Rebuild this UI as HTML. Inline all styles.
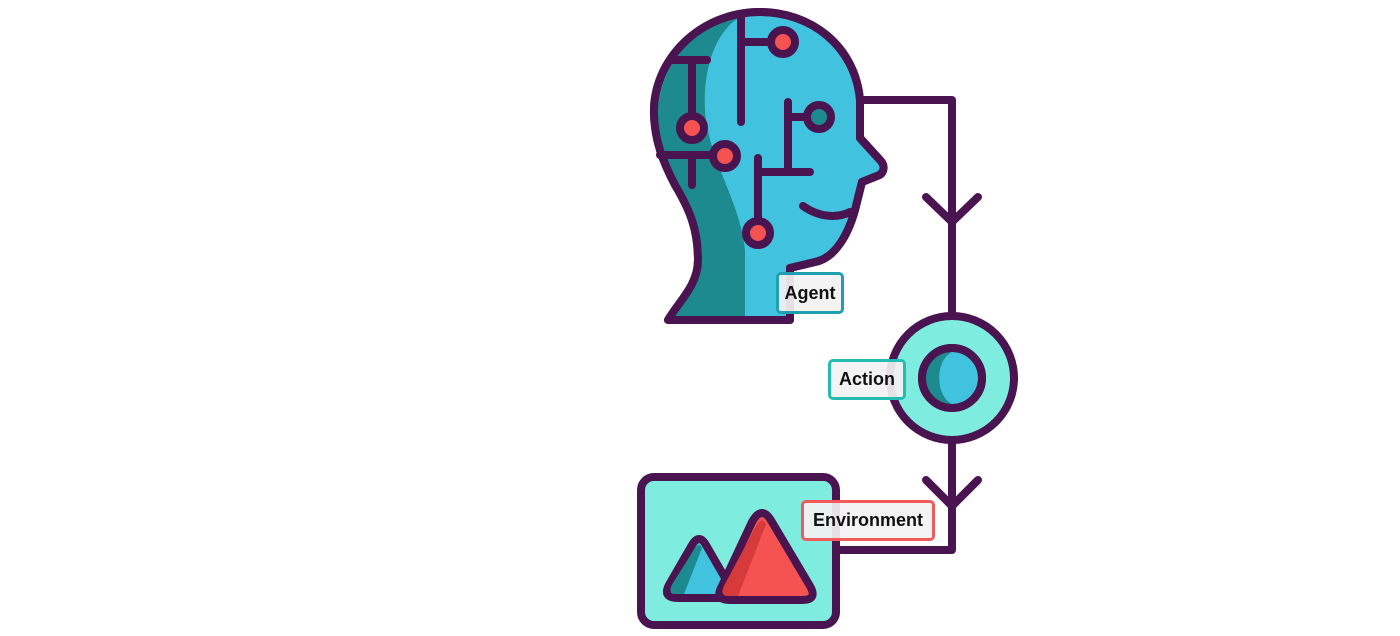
<!DOCTYPE html>
<html><head><style>
html,body{margin:0;padding:0;background:#fff;width:1400px;height:636px;overflow:hidden}
.l{position:absolute;box-sizing:border-box;border:3px solid;border-radius:5px;background:rgba(242,242,242,0.92);font:bold 18px "Liberation Sans",sans-serif;color:#111;display:flex;align-items:center;justify-content:center}
</style></head><body>
<svg width="1400" height="636" style="position:absolute;left:0;top:0">
<g stroke="#4a1450" stroke-width="8" stroke-linecap="round" stroke-linejoin="round">
<path d="M760,12 C700,12 652,60 654,115 C655,140 662,160 675,185 C690,210 698,230 698,260 C698,285 680,300 668,320 L790,320 L790,268 L815,262 C835,258 848,235 855,210 L862,182 L877,176 C884,174 886,166 880,160 L860,138 L860,100 C855,45 810,12 760,12 Z" fill="#41c3e0"/>
</g>
<path d="M742,16 C715,30 703,70 705,110 C708,160 740,200 745,250 L745,316 L672,316 C684,298 694,286 694,260 C694,230 686,210 671,185 C660,162 658,140 658,115 C658,62 700,20 742,16 Z" fill="#1c8a8e"/>
<g stroke="#4a1450" stroke-width="8" stroke-linecap="round" stroke-linejoin="round" fill="none">
<path d="M760,12 C700,12 652,60 654,115 C655,140 662,160 675,185 C690,210 698,230 698,260 C698,285 680,300 668,320 L790,320 L790,268 L815,262 C835,258 848,235 855,210 L862,182 L877,176 C884,174 886,166 880,160 L860,138 L860,100 C855,45 810,12 760,12 Z"/>
<path d="M741,14 V122 M741,42 H771 M672,60 H707 M692,60 V116 M660,155 H713 M692,155 V185 M758,158 V221 M758,172 H810 M788,102 V172 M788,117 H807"/>
<path d="M803,206 C820,218 838,218 850,212"/>
<path d="M862,100 H952 V316 M926,197 L952,222 L978,197 M952,440 V550 H838 M926,480 L952,506 L978,480"/>
</g>
<g stroke="#4a1450" stroke-width="8">
<circle cx="783" cy="42" r="12" fill="#f55252"/>
<circle cx="692" cy="128" r="12" fill="#f55252"/>
<circle cx="725" cy="156" r="12" fill="#f55252"/>
<circle cx="758" cy="233" r="12" fill="#f55252"/>
<circle cx="819" cy="117" r="12" fill="#1c8a8e"/>
<circle cx="952" cy="378" r="62" fill="#7eede0"/>
<circle cx="952" cy="378" r="30" fill="#41c3e0"/>
</g>
<path d="M952,352 C935,360 935,396 952,404 A26,26 0 0 1 952,352 Z" fill="#1c8a8e"/>
<circle cx="952" cy="378" r="30" fill="none" stroke="#4a1450" stroke-width="8"/>
<rect x="641" y="477" width="195" height="148" rx="13" fill="#7eede0" stroke="#4a1450" stroke-width="8"/>
<path d="M692,545 Q699,533 706,545 L728,583 Q737,598 720,598 L678,598 Q661,598 670,583 Z" fill="#41c3e0" stroke="#4a1450" stroke-width="8" stroke-linejoin="round"/>
<path d="M695,548 Q699,542 702,548 L684,594 L678,594 Q666,594 673,583 Z" fill="#1c8a8e"/>
<path d="M752,522 Q762,504 772,522 L810,586 Q818,600 802,600 L730,600 Q714,600 722,586 Z" fill="#f55252" stroke="#4a1450" stroke-width="8" stroke-linejoin="round"/>
<path d="M756,526 Q762,516 766,524 L738,596 L730,596 Q718,596 725,584 Z" fill="#d63a3a"/>
</svg>
<div class="l" style="left:776px;top:272px;width:68px;height:42px;border-color:#1ea0b0">Agent</div>
<div class="l" style="left:828px;top:359px;width:78px;height:41px;border-color:#22bdb0">Action</div>
<div class="l" style="left:801px;top:500px;width:134px;height:41px;border-color:#f05a5a">Environment</div>
</body></html>
